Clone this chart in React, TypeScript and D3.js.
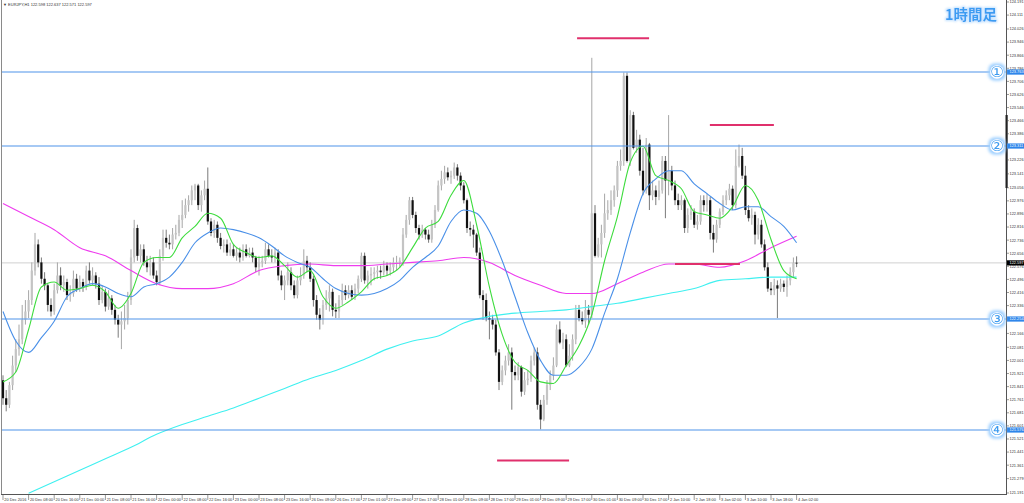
import React from "react";
import * as d3 from "d3";

// ---------- data (EURJPY H1) ----------
const symbolHeader = "EURJPY,H1  122.598 122.637 122.571 122.597";
const chartTitle = "1時間足";

const firstOpen = 121.88;
const closes = [
  121.77,121.73,121.85,121.97,122.07,122.13,122.25,122.30,122.37,122.55,
  122.71,122.60,122.50,122.46,122.34,122.30,122.43,122.52,122.46,122.48,
  122.40,122.41,122.50,122.44,122.48,122.45,122.55,122.49,122.52,122.47,
  122.37,122.42,122.33,122.38,122.31,122.25,122.22,122.24,122.26,122.37,
  122.63,122.81,122.64,122.68,122.60,122.57,122.60,122.52,122.48,122.64,
  122.75,122.72,122.71,122.77,122.78,122.86,122.89,122.95,122.98,123.04,
  123.07,122.95,123.01,123.05,122.85,122.78,122.83,122.75,122.70,122.71,
  122.66,122.68,122.64,122.66,122.63,122.68,122.64,122.66,122.63,122.57,
  122.60,122.61,122.68,122.64,122.63,122.66,122.52,122.46,122.49,122.54,
  122.46,122.40,122.49,122.52,122.61,122.57,122.50,122.37,122.28,122.25,
  122.34,122.38,122.42,122.31,122.30,122.37,122.43,122.40,122.43,122.39,
  122.44,122.50,122.64,122.49,122.52,122.53,122.54,122.55,122.54,122.58,
  122.55,122.57,122.60,122.60,122.61,122.77,122.86,122.98,122.89,122.81,
  122.77,122.80,122.77,122.74,122.83,122.92,123.07,123.11,123.15,123.12,
  123.13,123.18,123.13,123.07,122.98,122.81,122.80,122.77,122.66,122.40,
  122.37,122.26,122.25,122.22,122.05,121.87,121.94,122.00,122.05,121.93,
  121.91,121.96,121.81,121.88,121.89,122.00,122.05,121.73,121.64,121.76,
  121.85,121.91,121.97,122.19,122.11,122.13,121.97,122.03,122.13,122.31,
  122.26,122.24,122.31,122.28,122.90,122.64,122.71,122.78,122.90,122.92,
  122.98,123.04,123.19,123.22,123.74,123.22,123.50,123.30,123.35,123.16,
  123.04,123.32,123.01,123.04,123.00,123.04,123.22,123.10,123.16,123.07,
  122.98,122.95,122.98,122.81,122.89,122.91,122.83,122.85,122.98,122.95,
  122.98,122.78,122.74,122.83,122.91,122.98,123.01,123.05,122.95,123.19,
  123.25,123.13,122.92,122.87,122.89,122.77,122.83,122.71,122.57,122.44,
  122.43,122.46,122.44,122.47,122.45,122.49,122.54,122.598,122.597
];
const highs = [
  121.91,121.82,121.87,122.03,122.13,122.22,122.34,122.37,122.43,122.60,
  122.78,122.74,122.63,122.54,122.47,122.38,122.47,122.60,122.57,122.52,
  122.50,122.46,122.55,122.53,122.52,122.50,122.58,122.60,122.57,122.54,
  122.51,122.46,122.44,122.43,122.40,122.34,122.28,122.30,122.34,122.42,
  122.68,122.86,122.83,122.71,122.71,122.64,122.64,122.63,122.55,122.68,
  122.80,122.80,122.77,122.81,122.83,122.89,122.98,122.99,123.01,123.07,
  123.08,123.08,123.04,123.10,123.18,122.87,122.86,122.85,122.78,122.74,
  122.74,122.72,122.71,122.69,122.69,122.71,122.71,122.69,122.69,122.64,
  122.64,122.64,122.72,122.71,122.68,122.69,122.68,122.55,122.52,122.60,
  122.57,122.49,122.52,122.57,122.68,122.64,122.60,122.52,122.40,122.32,
  122.37,122.43,122.46,122.44,122.35,122.40,122.47,122.46,122.46,122.46,
  122.47,122.52,122.66,122.66,122.55,122.57,122.57,122.58,122.58,122.61,
  122.60,122.60,122.63,122.64,122.63,122.81,122.89,123.00,123.00,122.91,
  122.83,122.83,122.81,122.80,122.86,122.95,123.10,123.16,123.19,123.18,
  123.16,123.21,123.20,123.15,123.09,122.99,122.85,122.83,122.78,122.69,
  122.43,122.41,122.30,122.28,122.25,122.07,121.97,122.03,122.10,122.08,
  121.97,121.99,121.97,121.93,121.94,122.03,122.08,122.08,121.76,121.79,
  121.88,121.94,122.02,122.22,122.24,122.17,122.16,122.10,122.16,122.34,
  122.34,122.30,122.37,122.34,123.85,122.95,122.75,122.83,123.02,122.98,
  123.04,123.07,123.22,123.29,123.76,123.76,123.53,123.52,123.41,123.38,
  123.30,123.36,123.33,123.10,123.07,123.10,123.25,123.25,123.50,123.19,
  123.10,123.02,123.01,122.99,122.93,122.95,122.93,122.89,123.01,123.01,
  123.02,123.00,122.83,122.86,122.93,123.01,123.04,123.08,123.07,123.29,
  123.32,123.30,123.19,122.95,122.93,122.91,122.87,122.86,122.74,122.60,
  122.48,122.50,122.49,122.50,122.49,122.52,122.57,122.63,122.637
];
const lows = [
  121.73,121.69,121.71,121.82,121.93,122.03,122.10,122.22,122.26,122.34,
  122.52,122.57,122.47,122.43,122.30,122.27,122.28,122.41,122.43,122.42,
  122.37,122.36,122.39,122.42,122.42,122.42,122.43,122.47,122.46,122.44,
  122.34,122.35,122.30,122.31,122.28,122.22,122.14,122.07,122.19,122.22,
  122.34,122.60,122.61,122.60,122.58,122.54,122.52,122.50,122.46,122.46,
  122.61,122.69,122.68,122.68,122.74,122.76,122.81,122.87,122.91,122.95,
  122.98,122.92,122.91,122.98,122.83,122.76,122.75,122.72,122.68,122.66,
  122.64,122.64,122.63,122.61,122.60,122.61,122.63,122.63,122.60,122.54,
  122.52,122.57,122.59,122.63,122.60,122.60,122.49,122.43,122.37,122.46,
  122.43,122.38,122.38,122.46,122.50,122.54,122.48,122.33,122.25,122.19,
  122.22,122.31,122.30,122.27,122.26,122.26,122.34,122.37,122.38,122.37,
  122.37,122.41,122.48,122.47,122.44,122.46,122.49,122.50,122.50,122.52,
  122.52,122.52,122.54,122.55,122.57,122.58,122.75,122.83,122.87,122.78,
  122.74,122.75,122.74,122.72,122.72,122.81,122.91,123.04,123.08,123.10,
  123.08,123.11,123.10,123.04,122.96,122.78,122.76,122.69,122.64,122.38,
  122.25,122.24,122.13,122.19,122.03,121.82,121.85,121.91,121.97,121.70,
  121.88,121.88,121.78,121.79,121.85,121.87,121.97,121.70,121.58,121.63,
  121.73,121.82,121.88,121.96,122.10,122.07,121.96,121.96,122.00,122.10,
  122.24,122.22,122.20,122.22,122.26,122.63,122.63,122.63,122.75,122.86,
  122.89,122.94,123.00,123.16,123.19,123.21,123.19,123.29,123.27,123.13,
  123.01,123.02,122.92,122.98,122.95,122.98,123.02,122.87,123.01,123.04,
  122.95,122.92,122.92,122.78,122.78,122.86,122.81,122.80,122.83,122.91,
  122.91,122.74,122.66,122.72,122.81,122.89,122.95,122.98,122.92,122.93,
  123.18,123.11,122.89,122.85,122.83,122.71,122.74,122.69,122.55,122.42,
  122.40,122.40,122.26,122.42,122.42,122.39,122.46,122.51,122.571
];

// time axis labels, one every 8 bars starting at bar 0
const timeLabels = [
  "20 Dec 2016","20 Dec 08:00","20 Dec 16:00","21 Dec 00:00","21 Dec 08:00","21 Dec 16:00",
  "22 Dec 00:00","22 Dec 08:00","22 Dec 16:00","23 Dec 00:00","23 Dec 08:00","23 Dec 16:00",
  "26 Dec 09:00","26 Dec 17:00","27 Dec 01:00","27 Dec 09:00","27 Dec 17:00","28 Dec 01:00",
  "28 Dec 09:00","28 Dec 17:00","29 Dec 01:00","29 Dec 09:00","29 Dec 17:00","30 Dec 01:00",
  "30 Dec 09:00","30 Dec 17:00","2 Jan 10:00","2 Jan 18:00","3 Jan 02:00","3 Jan 10:00",
  "3 Jan 18:00","4 Jan 02:00"
];
const labelStep = 8;

const priceTicks = [
  "124.191","124.111","124.026","123.946","123.866","123.786","123.706","123.626","123.546",
  "123.466","123.386","123.306","123.226","123.141","123.056","122.976","122.896","122.816",
  "122.736","122.656","122.576","122.496","122.416","122.336","122.251","122.166","122.081",
  "122.001","121.921","121.841","121.761","121.681","121.601","121.521","121.441","121.361",
  "121.279","121.191"
];

// moving averages (sampled)
const fastMA = [ // every 4 bars from bar 0
  121.87,121.93,122.19,122.45,122.48,122.43,122.44,122.46,122.42,122.32,
  122.41,122.60,122.63,122.63,122.75,122.82,122.90,122.87,122.71,122.66,
  122.63,122.64,122.58,122.51,122.55,122.39,122.32,122.36,122.42,122.50,
  122.52,122.57,122.69,122.81,122.85,123.01,123.10,122.83,122.45,122.16,
  121.99,121.94,121.87,121.86,121.97,122.09,122.28,122.61,122.88,123.21,
  123.31,123.13,123.10,123.05,122.91,122.89,122.87,122.94,123.07,122.98,
  122.74,122.55,122.50
];
const midMA = [ // every 4 bars from bar 0
  122.30,122.12,122.05,122.14,122.24,122.39,122.44,122.47,122.45,122.41,
  122.39,122.45,122.47,122.51,122.60,122.72,122.78,122.81,122.80,122.78,
  122.75,122.70,122.64,122.60,122.57,122.50,122.44,122.41,122.40,122.41,
  122.44,122.49,122.57,122.63,122.70,122.85,122.92,122.90,122.79,122.61,
  122.39,122.17,122.00,121.91,121.91,121.96,122.07,122.29,122.50,122.78,
  123.02,123.11,123.16,123.16,123.08,123.02,122.96,122.92,122.94,122.94,
  122.88,122.82,122.72
];
const slowMA = [ // every 8 bars from bar 0
  122.96,122.88,122.80,122.69,122.64,122.55,122.47,122.44,122.44,122.47,
  122.55,122.58,122.59,122.58,122.58,122.59,122.60,122.61,122.63,122.60,
  122.52,122.46,122.41,122.41,122.47,122.54,122.59,122.59,122.57,122.61,
  122.69,122.76
];
const longMA = [ // every 8 bars from bar 8
  121.19,121.26,121.33,121.40,121.47,121.55,121.61,121.66,121.71,121.77,
  121.83,121.89,121.94,122.00,122.07,122.12,122.15,122.23,122.27,122.29,
  122.30,122.31,122.33,122.35,122.38,122.41,122.44,122.49,122.50,122.51,
  122.51
];

const levelMarks = ["①", "②", "③", "④"];
const levelPrices = [123.763, 123.311, 122.254, 121.576];
const currentPrice = 122.597;

// short annotation segments: [fromBar, toBar, price]
const segFrom = [179.4, 220.9, 210.0, 154.4];
const segTo = [201.9, 240.9, 230.3, 176.9];
const segPrice = [123.97, 123.44, 122.59, 121.39];

// ---------- component ----------
export default function App() {
  const lastBar = closes.length - 1;
  const x = d3.scaleLinear().domain([0, lastBar]).range([3, 796.6]);
  const y = d3.scaleLinear().domain([121.191, 124.191]).range([493, 2]);
  const opens = closes.map((c, i) => (i === 0 ? firstOpen : closes[i - 1]));

  const mkLine = (vals: number[], start: number, step: number) =>
    d3
      .line<number>()
      .x((_, i) => x(start + i * step))
      .y((v) => y(v))
      .curve(d3.curveMonotoneX)(vals) || "";

  const plotRight = 1006;
  const plotBottom = 494;
  const axisFont = "'Liberation Sans', Arial, sans-serif";

  return (
    <div style={{ position: "absolute", left: 0, top: 0, width: 1024, height: 503, background: "#fff" }}>
      <svg width={1024} height={503} viewBox="0 0 1024 503" style={{ display: "block" }}>
        <defs>
          <clipPath id="plotClip">
            <rect x={1} y={0} width={plotRight - 1} height={plotBottom} />
          </clipPath>
          <filter id="glow" x="-40%" y="-40%" width="180%" height="180%">
            <feMorphology in="SourceAlpha" operator="dilate" radius="1.3" result="d" />
            <feGaussianBlur in="d" stdDeviation="1.3" result="b" />
            <feFlood floodColor="#c4e2ff" />
            <feComposite in2="b" operator="in" result="g" />
            <feMerge>
              <feMergeNode in="g" />
              <feMergeNode in="SourceGraphic" />
            </feMerge>
          </filter>
          <filter id="glowC" x="-50%" y="-50%" width="200%" height="200%">
            <feMorphology in="SourceAlpha" operator="dilate" radius="1.6" result="d" />
            <feGaussianBlur in="d" stdDeviation="1.6" result="b" />
            <feFlood floodColor="#9fd0ff" />
            <feComposite in2="b" operator="in" result="g" />
            <feMerge>
              <feMergeNode in="g" />
              <feMergeNode in="SourceGraphic" />
            </feMerge>
          </filter>
        </defs>
        <rect x={0} y={0} width={1024} height={503} fill="#ffffff" />

        <g clipPath="url(#plotClip)">
          {/* current price line */}
          <line x1={1} x2={plotRight} y1={y(currentPrice)} y2={y(currentPrice)} stroke="#d0d0d0" strokeWidth={1} />

          {/* candles */}
          {closes.map((c, i) => {
            const o = opens[i];
            const h = Math.max(highs[i], o, c);
            const l = Math.min(lows[i], o, c);
            const bull = c >= o;
            const cx = x(i);
            const top = y(Math.max(o, c));
            const bot = y(Math.min(o, c));
            return (
              <g key={i}>
                <line x1={cx} x2={cx} y1={y(h)} y2={y(l)} stroke={bull ? "#a6a6a6" : "#7a7a7a"} strokeWidth={1} />
                <rect
                  x={cx - 1.1}
                  y={top}
                  width={2.2}
                  height={Math.max(0.8, bot - top)}
                  fill={bull ? "#c4c4c4" : "#111111"}
                />
              </g>
            );
          })}

          {/* moving averages */}
          <path d={mkLine(longMA, 8, 8)} fill="none" stroke="#3ff0f0" strokeWidth={1.1} />
          <path d={mkLine(slowMA, 0, 8)} fill="none" stroke="#ee3cee" strokeWidth={1.1} />
          <path d={mkLine(midMA, 0, 4)} fill="none" stroke="#4a90e8" strokeWidth={1.1} />
          <path d={mkLine(fastMA, 0, 4)} fill="none" stroke="#3ddc3d" strokeWidth={1.1} />

          {/* horizontal levels */}
          {levelPrices.map((p, i) => (
            <line key={i} x1={1} x2={plotRight} y1={y(p)} y2={y(p)} stroke="#4f94ea" strokeWidth={1.1} />
          ))}

          {/* annotation segments */}
          {segPrice.map((p, i) => (
            <line key={i} x1={x(segFrom[i])} x2={x(segTo[i])} y1={y(p)} y2={y(p)} stroke="#e0306c" strokeWidth={2} />
          ))}
        </g>

        {/* frame */}
        <line x1={1.5} x2={1.5} y1={0} y2={plotBottom} stroke="#8a8a8a" strokeWidth={1} />
        <line x1={1} x2={plotRight} y1={plotBottom + 0.5} y2={plotBottom + 0.5} stroke="#555" strokeWidth={1} />
        <line x1={plotRight + 0.5} x2={plotRight + 0.5} y1={0} y2={plotBottom + 1} stroke="#555" strokeWidth={1} />
        <rect x={plotRight - 0.5} y={115} width={2.2} height={73} fill="#222" />

        {/* price axis */}
        {priceTicks.map((t) => {
          const py = y(+t);
          return (
            <g key={t}>
              <line x1={plotRight + 1} x2={plotRight + 3} y1={py} y2={py} stroke="#555" strokeWidth={0.6} />
              <text x={plotRight + 3.5} y={py + 1.4} fontSize={3.9} fontFamily={axisFont} fill="#333">
                {t}
              </text>
            </g>
          );
        })}

        {/* level price boxes */}
        {levelPrices.map((p, i) => (
          <g key={i}>
            <rect x={plotRight + 1} y={y(p) - 2.6} width={18} height={5.2} fill="#2f86ea" />
            <text x={plotRight + 3.5} y={y(p) + 1.4} fontSize={3.9} fontFamily={axisFont} fill="#fff">
              {p.toFixed(3)}
            </text>
          </g>
        ))}
        <rect x={plotRight + 1} y={y(currentPrice) - 2.6} width={18} height={5.2} fill="#000" />
        <text x={plotRight + 3.5} y={y(currentPrice) + 1.4} fontSize={3.9} fontFamily={axisFont} fill="#fff">
          {currentPrice.toFixed(3)}
        </text>

        {/* circled level numbers */}
        {levelPrices.map((p, i) => (
          <g key={i} filter="url(#glowC)">
            <circle cx={997} cy={y(p)} r={6.8} fill="#ffffff" />
            <text
              x={997}
              y={y(p) + 5.3}
              textAnchor="middle"
              fontSize={15}
              fontFamily="'DejaVu Sans', sans-serif"
              fill="#3d9bf0"
            >
              {levelMarks[i]}
            </text>
          </g>
        ))}

        {/* time axis */}
        {timeLabels.map((t, k) => {
          const tx = x(k * labelStep);
          return (
            <g key={t}>
              <line x1={tx} x2={tx} y1={plotBottom + 1} y2={plotBottom + 6} stroke="#555" strokeWidth={0.6} />
              <text x={tx + 1.3} y={500.5} fontSize={3.9} fontFamily={axisFont} fill="#333">
                {t}
              </text>
            </g>
          );
        })}

        {/* header */}
        <text x={3} y={5.5} fontSize={4} fontFamily={axisFont} fill="#333">
          {"▼ " + symbolHeader}
        </text>

        {/* title */}
        <g filter="url(#glow)">
          <text
            x={945}
            y={20}
            fontSize={14.5}
            fontWeight={700}
            fontFamily="'Noto Sans CJK JP', sans-serif"
            fill="#3a9cf2"
          >
            {chartTitle}
          </text>
        </g>
      </svg>
    </div>
  );
}
